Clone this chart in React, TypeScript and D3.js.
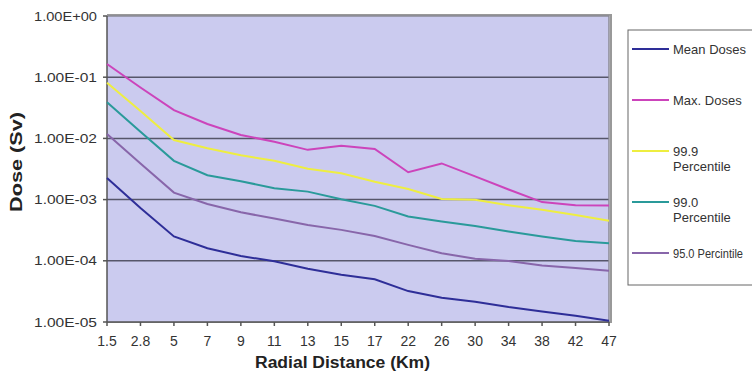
import React from 'react';
import * as d3 from 'd3';

const DISTANCES = ['1.5', '2.8', '5', '7', '9', '11', '13', '15', '17', '22', '26', '30', '34', '38', '42', '47'];

const MEAN = [2.25e-3, 7.3e-4, 2.5e-4, 1.6e-4, 1.2e-4, 9.8e-5, 7.4e-5, 5.9e-5, 5.0e-5, 3.2e-5, 2.5e-5, 2.15e-5, 1.76e-5, 1.49e-5, 1.26e-5, 1.05e-5];
const MAX = [0.164, 0.068, 0.029, 0.0172, 0.0114, 0.0088, 0.0065, 0.0076, 0.0067, 0.0028, 0.0039, 0.0024, 0.00146, 9.1e-4, 8.1e-4, 8.0e-4];
const P999 = [0.081, 0.028, 0.0094, 0.0069, 0.0053, 0.0043, 0.0032, 0.0027, 0.00196, 0.00149, 0.00102, 9.9e-4, 8.1e-4, 6.8e-4, 5.6e-4, 4.5e-4];
const P990 = [0.039, 0.0128, 0.0043, 0.0025, 0.002, 0.00153, 0.00135, 0.00101, 7.9e-4, 5.3e-4, 4.4e-4, 3.7e-4, 3.0e-4, 2.5e-4, 2.1e-4, 1.93e-4];
const P950 = [0.0118, 0.0039, 0.0013, 8.5e-4, 6.2e-4, 4.9e-4, 3.85e-4, 3.2e-4, 2.54e-4, 1.82e-4, 1.33e-4, 1.08e-4, 9.9e-5, 8.4e-5, 7.6e-5, 6.9e-5];

const Y_TICKS = [1, 1e-1, 1e-2, 1e-3, 1e-4, 1e-5];
const Y_LABELS = ['1.00E+00', '1.00E-01', '1.00E-02', '1.00E-03', '1.00E-04', '1.00E-05'];

const SERIES = [
  { name: ['Mean Doses'], values: MEAN, color: '#2e2e98' },
  { name: ['Max. Doses'], values: MAX, color: '#cc44bb' },
  { name: ['99.9', 'Percentile'], values: P999, color: '#eeee40' },
  { name: ['99.0', 'Percentile'], values: P990, color: '#2a9a9a' },
  { name: ['95.0 Percintile'], values: P950, color: '#8866aa' },
];

const W = 752, H = 377;
const m = { l: 107, r: 609, t: 16, b: 322 };
const FONT = 'Arial, "Liberation Sans", Helvetica, sans-serif';

export default function App() {
  const x = d3.scalePoint<string>().domain(DISTANCES).range([m.l, m.r]);
  const y = d3.scaleLog().domain([1e-5, 1]).range([m.b, m.t]);
  const line = d3.line<number>().x((_, i) => x(DISTANCES[i])!).y(d => y(d));

  const legendY = [49, 100, 151, 202, 253];

  return (
    <svg width={W} height={H} style={{ position: 'absolute', left: 0, top: 0 }} fontFamily={FONT}>
      <rect x={0} y={0} width={W} height={H} fill="#fff" />
      {/* plot area with shadowed frame */}
      <rect x={m.l + 1} y={m.t - 1} width={m.r - m.l + 1} height={m.b - m.t + 1} fill="none" stroke="#999" strokeWidth={2} />
      <rect x={m.l} y={m.t} width={m.r - m.l} height={m.b - m.t} fill="#cbcbef" />
      {Y_TICKS.slice(1, 5).map(t => (
        <line key={t} x1={m.l} x2={m.r} y1={y(t)} y2={y(t)} stroke="#56566a" strokeWidth={1.5} />
      ))}
      <line x1={m.r} x2={m.r} y1={m.t} y2={m.b} stroke="#8a8a95" strokeWidth={1.5} />
      <line x1={m.l} x2={m.r} y1={m.t} y2={m.t} stroke="#8a8a95" strokeWidth={1.5} />
      {/* axes */}
      <line x1={m.l} x2={m.l} y1={m.t} y2={m.b} stroke="#555" strokeWidth={1.5} />
      <line x1={m.l} x2={m.r} y1={m.b} y2={m.b} stroke="#555" strokeWidth={1.5} />
      {Y_TICKS.map((t, i) => (
        <g key={t}>
          <line x1={m.l - 4} x2={m.l} y1={y(t)} y2={y(t)} stroke="#555" strokeWidth={1.5} />
          <text x={97} y={y(t) + 4.5} textAnchor="end" fontSize={13} fill="#333"
            textLength={63} lengthAdjust="spacingAndGlyphs">{Y_LABELS[i]}</text>
        </g>
      ))}
      {DISTANCES.map(d => (
        <g key={d}>
          <line x1={x(d)} x2={x(d)} y1={m.b} y2={m.b + 4} stroke="#555" strokeWidth={1.5} />
          <text x={x(d)} y={m.b + 24} textAnchor="middle" fontSize={14} fill="#333">{d}</text>
        </g>
      ))}
      {SERIES.map(s => (
        <path key={s.name.join(' ')} d={line(s.values)!} fill="none" stroke={s.color} strokeWidth={2} />
      ))}
      <text x={342.5} y={368} textAnchor="middle" fontSize={16} fontWeight="bold" fill="#222"
        textLength={175} lengthAdjust="spacingAndGlyphs">Radial Distance (Km)</text>
      <text transform="translate(22,162) rotate(-90)" textAnchor="middle" fontSize={16} fontWeight="bold" fill="#222"
        textLength={100} lengthAdjust="spacingAndGlyphs">Dose (Sv)</text>
      {/* legend */}
      <rect x={628} y={30} width={140} height={255} fill="#fff" stroke="#666" strokeWidth={1} />
      {SERIES.map((s, i) => (
        <g key={s.name.join(' ')}>
          <line x1={632} x2={669} y1={legendY[i]} y2={legendY[i]} stroke={s.color} strokeWidth={2} />
          {s.name.map((n, j) => (
            <text key={n} x={673} y={legendY[i] + 4.5 + j * 15.7} fontSize={n.length > 12 ? 12 : 13} fill="#333"
              {...(n.length > 12 ? { textLength: 70, lengthAdjust: 'spacingAndGlyphs' } : {})}>{n}</text>
          ))}
        </g>
      ))}
    </svg>
  );
}
